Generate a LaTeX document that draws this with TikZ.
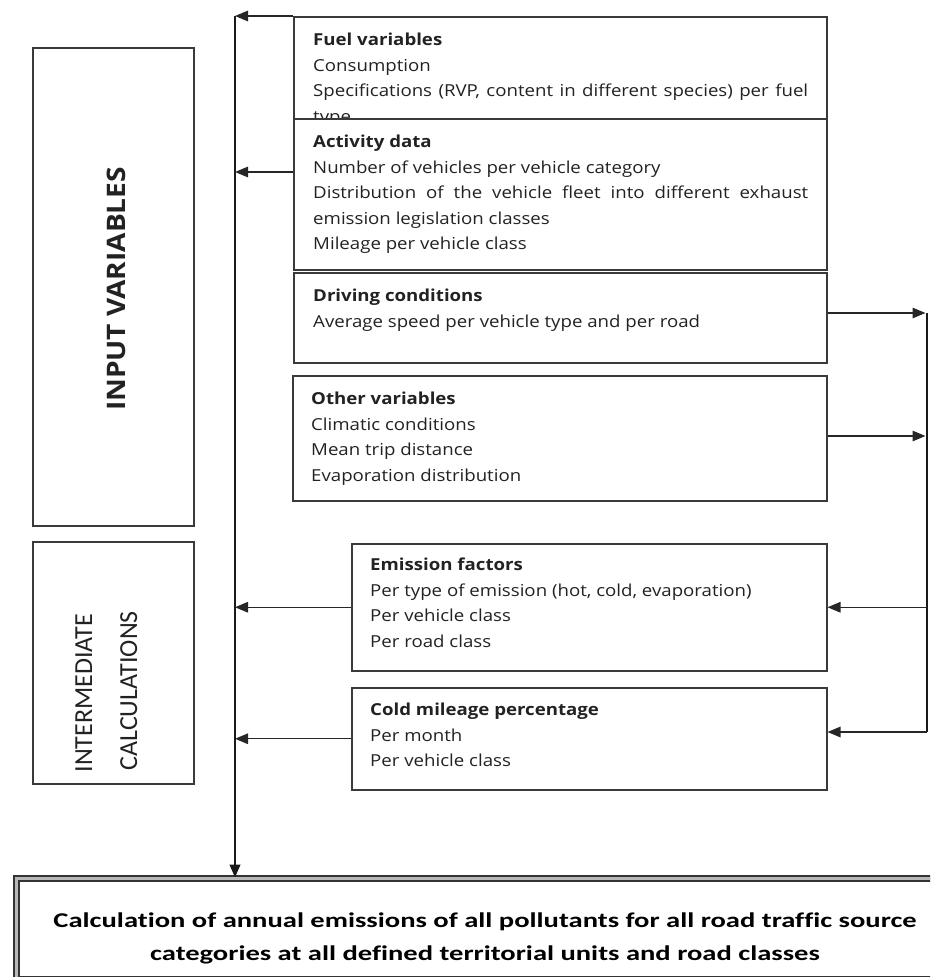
\documentclass[tikz,border=0pt]{standalone}
\usepackage{fontspec}
\setmainfont{Open Sans}
\newfontfamily\bodyfont{Open Sans}[FakeStretch=1.13]
\newfontfamily\inpfont{Open Sans}[FakeStretch=1.1]
\newfontfamily\calib{Carlito}
\newfontfamily\calibw{Carlito}[FakeStretch=1.36, Ligatures=CommonOff]
\usetikzlibrary{arrows.meta}
\definecolor{ink}{HTML}{222222}
\definecolor{edge}{HTML}{3A3A3A}
\newcommand{\nsp}{\spaceskip=0pt\xspaceskip=0pt\relax}
\tikzset{
  box/.style={draw=edge, line width=1.5pt, fill=white, anchor=north west, inner sep=0pt},
  body/.style={anchor=north west, inner sep=0pt, align=left, text width=495pt,
    font=\bodyfont\fontsize{16.5}{25.5}\selectfont, text=ink},
  link/.style={line width=1.4pt, draw=black!85, -{Triangle[length=13pt,width=10.5pt]}},
  trunk/.style={line width=2.6pt, draw=black!90},
  calcbox/.style={draw=black!80, double=black!28, double distance=2.8pt, line width=1.8pt,
    anchor=north west, inner sep=0pt},
}
\begin{document}
\begin{tikzpicture}[x=1pt,y=-1pt]
\useasboundingbox (0,0) rectangle (930,977);
% left category boxes
\node[box, minimum width=161pt, minimum height=478pt] (inp) at (32,47) {};
\node[rotate=90, font=\inpfont\bfseries\fontsize{25.5}{30}\selectfont, text=ink] (inpt) at (116,289) {\nsp INPUT VARIABLES};
\node[box, minimum width=161pt, minimum height=242pt] (inter) at (32,541) {};
\node[rotate=90, anchor=base west, font=\calib\fontsize{26}{30}\selectfont, text=ink] (intt) at (92,776) {INTERMEDIATE};
\node[rotate=90, anchor=base west, font=\calib\fontsize{26}{30}\selectfont, text=ink] (calt) at (137,774) {CALCULATIONS};
% fuel variables
\node[box, minimum width=533pt, minimum height=131pt] (fuel) at (293,16) {};
\node[body] (fuelt) at (313,33) {\nsp\textbf{Fuel variables}\\Consumption\\
  \makebox[495pt][s]{Specifications (RVP, content in different species) per fuel}\\type};
% activity data
\node[box, minimum width=533pt, minimum height=151pt] (act) at (293,118) {};
\node[body] (actt) at (313,135) {\nsp\textbf{Activity data}\\Number of vehicles per vehicle category\\
  \makebox[495pt][s]{Distribution of the vehicle fleet into different exhaust}\\
  emission legislation classes\\Mileage per vehicle class};
% driving conditions
\node[box, minimum width=533pt, minimum height=90pt] (drive) at (293,272) {};
\node[body] (drivet) at (313,289) {\nsp\textbf{Driving conditions}\\Average speed per vehicle type and per road};
% other variables
\node[box, minimum width=534pt, minimum height=125pt] (other) at (292,375) {};
\node[body] (othert) at (311,392) {\nsp\textbf{Other variables}\\Climatic conditions\\Mean trip distance\\Evaporation distribution};
% emission factors
\node[box, minimum width=475pt, minimum height=127pt] (emis) at (351,543) {};
\node[body] (emist) at (370,558) {\nsp\textbf{Emission factors}\\Per type of emission (hot, cold, evaporation)\\Per vehicle class\\Per road class};
% cold mileage
\node[box, minimum width=475pt, minimum height=102pt] (cold) at (351,687) {};
\node[body] (coldt) at (370,703) {\nsp\textbf{Cold mileage percentage}\\Per month\\Per vehicle class};
% final box
\begin{scope}
\clip (0,0) rectangle (930,977);
\node[calcbox, minimum width=956pt, minimum height=101pt] (calc) at (15.5,877.5) {};
\end{scope}
\node[font=\calibw\bfseries\fontsize{21}{33}\selectfont, align=center, text=black, inner sep=0pt] (calct) at (485,938.5)
  {\nsp Calculation of annual emissions of all pollutants for all road traffic source\\\nsp categories at all defined territorial units and road classes};
% left trunk
\coordinate (tk) at (235,16);
\draw[trunk, -{Triangle[length=13pt,width=10.5pt]}] (tk) -- (tk |- calc.north);
\draw[link] (fuel.north west) -- (tk);
\draw[link] ([yshift=-54pt]act.north west) coordinate (a1) -- (a1 -| tk);
\draw[link] (emis.west) -- (emis.west -| tk);
\draw[link] (cold.west) -- (cold.west -| tk);
% right trunk
\coordinate (rk) at (927,313);
\coordinate (rb) at (927,732);
\draw[trunk] (rk) -- (rb);
\draw[link] ([yshift=-41pt]drive.north east) coordinate (d1) -- ([xshift=-1.5pt]d1 -| rk);
\draw[link] ([yshift=-61pt]other.north east) coordinate (o1) -- ([xshift=-1.5pt]o1 -| rk);
\draw[link] (emis.east -| rk) -- (emis.east);
\draw[link] (rb) -- (rb -| cold.east);
\end{tikzpicture}
\end{document}
